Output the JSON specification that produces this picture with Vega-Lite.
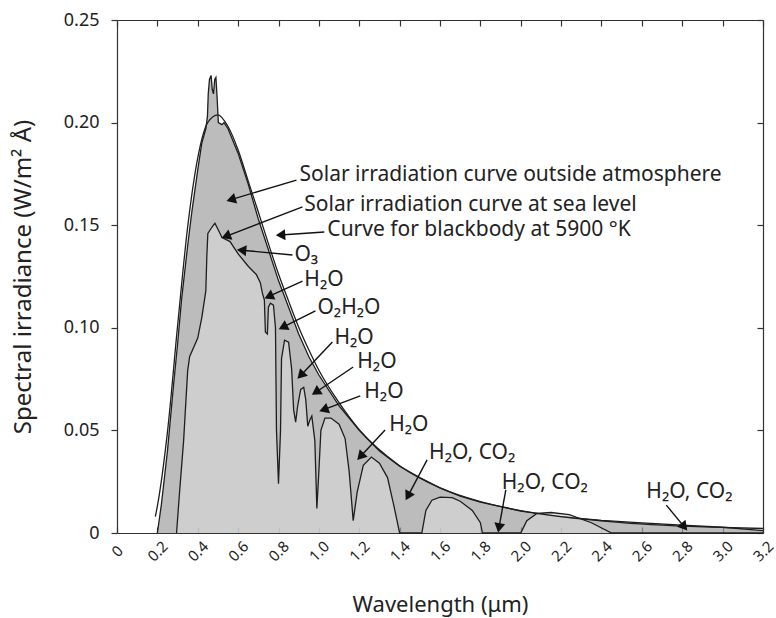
{
  "$schema": "https://vega.github.io/schema/vega-lite/v6.json",
  "width": 646,
  "height": 513,
  "autosize": {"type": "none"},
  "padding": {"left": 117, "top": 20, "right": 13, "bottom": 85},
  "background": "white",
  "config": {
    "font": "Noto Sans",
    "view": {"stroke": null},
    "axis": {"domainColor": "#333", "domainWidth": 1.2, "tickColor": "#333", "tickWidth": 1.2, "labelColor": "#222", "titleColor": "#222", "labelFont": "Noto Sans", "titleFont": "Noto Sans", "labelFontSize": 17, "titleFontSize": 22, "titleFontWeight": "normal", "grid": false}
  },
  "datasets": {
    "outer": [
      {"w": 0.20, "e": 0}, {"w": 0.22, "e": 0.014}, {"w": 0.25, "e": 0.040}, {"w": 0.28, "e": 0.072}, {"w": 0.30, "e": 0.092},
      {"w": 0.32, "e": 0.114}, {"w": 0.35, "e": 0.140}, {"w": 0.37, "e": 0.156}, {"w": 0.40, "e": 0.177}, {"w": 0.42, "e": 0.190},
      {"w": 0.44, "e": 0.197}, {"w": 0.448, "e": 0.203}, {"w": 0.452, "e": 0.214}, {"w": 0.458, "e": 0.221}, {"w": 0.466, "e": 0.223},
      {"w": 0.472, "e": 0.216}, {"w": 0.478, "e": 0.214}, {"w": 0.484, "e": 0.221}, {"w": 0.49, "e": 0.222}, {"w": 0.496, "e": 0.212},
      {"w": 0.502, "e": 0.200}, {"w": 0.52, "e": 0.199}, {"w": 0.53, "e": 0.200}, {"w": 0.55, "e": 0.197}, {"w": 0.60, "e": 0.185},
      {"w": 0.65, "e": 0.170}, {"w": 0.70, "e": 0.153}, {"w": 0.75, "e": 0.138}, {"w": 0.80, "e": 0.123}, {"w": 0.85, "e": 0.110},
      {"w": 0.90, "e": 0.097}, {"w": 0.95, "e": 0.086}, {"w": 1.00, "e": 0.077}, {"w": 1.10, "e": 0.062}, {"w": 1.20, "e": 0.050},
      {"w": 1.30, "e": 0.040}, {"w": 1.40, "e": 0.0325}, {"w": 1.50, "e": 0.027}, {"w": 1.60, "e": 0.022}, {"w": 1.70, "e": 0.018},
      {"w": 1.80, "e": 0.015}, {"w": 2.00, "e": 0.0107}, {"w": 2.20, "e": 0.008}, {"w": 2.40, "e": 0.0062}, {"w": 2.60, "e": 0.0049},
      {"w": 2.80, "e": 0.0038}, {"w": 3.00, "e": 0.0028}, {"w": 3.20, "e": 0.0012}
    ],
    "sea": [
      {"w": 0.295, "e": 0}, {"w": 0.31, "e": 0.02}, {"w": 0.33, "e": 0.045}, {"w": 0.35, "e": 0.079}, {"w": 0.36, "e": 0.086},
      {"w": 0.40, "e": 0.095}, {"w": 0.42, "e": 0.105}, {"w": 0.44, "e": 0.118}, {"w": 0.445, "e": 0.135}, {"w": 0.45, "e": 0.146},
      {"w": 0.47, "e": 0.149}, {"w": 0.485, "e": 0.151}, {"w": 0.50, "e": 0.148}, {"w": 0.52, "e": 0.144}, {"w": 0.56, "e": 0.142},
      {"w": 0.60, "e": 0.136}, {"w": 0.65, "e": 0.130}, {"w": 0.69, "e": 0.126}, {"w": 0.71, "e": 0.122}, {"w": 0.72, "e": 0.117},
      {"w": 0.73, "e": 0.1135}, {"w": 0.735, "e": 0.098}, {"w": 0.745, "e": 0.097}, {"w": 0.75, "e": 0.110}, {"w": 0.76, "e": 0.112},
      {"w": 0.775, "e": 0.111}, {"w": 0.785, "e": 0.100}, {"w": 0.79, "e": 0.05}, {"w": 0.80, "e": 0.024}, {"w": 0.81, "e": 0.05},
      {"w": 0.815, "e": 0.085}, {"w": 0.83, "e": 0.094}, {"w": 0.85, "e": 0.093}, {"w": 0.865, "e": 0.08}, {"w": 0.875, "e": 0.060},
      {"w": 0.885, "e": 0.054}, {"w": 0.895, "e": 0.062}, {"w": 0.91, "e": 0.070}, {"w": 0.925, "e": 0.071}, {"w": 0.935, "e": 0.065},
      {"w": 0.945, "e": 0.052}, {"w": 0.955, "e": 0.055}, {"w": 0.965, "e": 0.057}, {"w": 0.98, "e": 0.045}, {"w": 0.99, "e": 0.012},
      {"w": 1.00, "e": 0.03}, {"w": 1.01, "e": 0.05}, {"w": 1.03, "e": 0.056}, {"w": 1.06, "e": 0.056}, {"w": 1.10, "e": 0.053},
      {"w": 1.13, "e": 0.046}, {"w": 1.15, "e": 0.030}, {"w": 1.17, "e": 0.006}, {"w": 1.19, "e": 0.020}, {"w": 1.22, "e": 0.033},
      {"w": 1.26, "e": 0.037}, {"w": 1.30, "e": 0.034}, {"w": 1.34, "e": 0.027}, {"w": 1.37, "e": 0.014}, {"w": 1.40, "e": 0},
      {"w": 1.51, "e": 0}, {"w": 1.53, "e": 0.011}, {"w": 1.56, "e": 0.016}, {"w": 1.60, "e": 0.0175}, {"w": 1.66, "e": 0.0172},
      {"w": 1.70, "e": 0.0155}, {"w": 1.76, "e": 0.011}, {"w": 1.80, "e": 0.005}, {"w": 1.81, "e": 0}, {"w": 2.00, "e": 0},
      {"w": 2.03, "e": 0.006}, {"w": 2.08, "e": 0.0095}, {"w": 2.15, "e": 0.010}, {"w": 2.24, "e": 0.009}, {"w": 2.35, "e": 0.005},
      {"w": 2.45, "e": 0}, {"w": 3.20, "e": 0}
    ],
    "bb": [
      {"w": 0.19, "e": 0.008}, {"w": 0.20, "e": 0.0131}, {"w": 0.25, "e": 0.0493}, {"w": 0.30, "e": 0.1008}, {"w": 0.35, "e": 0.1491},
      {"w": 0.40, "e": 0.1828}, {"w": 0.45, "e": 0.2001}, {"w": 0.50, "e": 0.2038}, {"w": 0.55, "e": 0.1981}, {"w": 0.60, "e": 0.1866},
      {"w": 0.65, "e": 0.1715}, {"w": 0.70, "e": 0.1564}, {"w": 0.75, "e": 0.1410}, {"w": 0.80, "e": 0.1262}, {"w": 0.85, "e": 0.1130},
      {"w": 0.90, "e": 0.1003}, {"w": 0.95, "e": 0.0893}, {"w": 1.00, "e": 0.0793}, {"w": 1.10, "e": 0.0635}, {"w": 1.20, "e": 0.0503},
      {"w": 1.40, "e": 0.0328}, {"w": 1.60, "e": 0.0220}, {"w": 1.80, "e": 0.0153}, {"w": 2.00, "e": 0.0109}, {"w": 2.50, "e": 0.0051},
      {"w": 3.00, "e": 0.0027}, {"w": 3.20, "e": 0.0022}
    ],
    "labels": [
      {"t": "Solar irradiation curve outside atmosphere", "x": 0.904, "y": 0.1745},
      {"t": "Solar irradiation curve at sea level", "x": 0.928, "y": 0.160},
      {"t": "Curve for blackbody at 5900 °K", "x": 1.042, "y": 0.1477},
      {"t": "O₃", "x": 0.879, "y": 0.1355},
      {"t": "H₂O", "x": 0.928, "y": 0.1233},
      {"t": "O₂H₂O", "x": 0.993, "y": 0.1096},
      {"t": "H₂O", "x": 1.077, "y": 0.095},
      {"t": "H₂O", "x": 1.190, "y": 0.0833},
      {"t": "H₂O", "x": 1.225, "y": 0.0687},
      {"t": "H₂O", "x": 1.348, "y": 0.0526},
      {"t": "H₂O, CO₂", "x": 1.546, "y": 0.039},
      {"t": "H₂O, CO₂", "x": 1.906, "y": 0.0244},
      {"t": "H₂O, CO₂", "x": 2.622, "y": 0.020}
    ],
    "arrows": [
      {"x0": 0.889, "y0": 0.172, "x1": 0.565, "y1": 0.1625, "a": -106.6},
      {"x0": 0.919, "y0": 0.1589, "x1": 0.540, "y1": 0.1446, "a": -111},
      {"x0": 1.027, "y0": 0.1467, "x1": 0.81, "y1": 0.1452, "a": -93.7},
      {"x0": 0.869, "y0": 0.1355, "x1": 0.617, "y1": 0.1378, "a": -84.6},
      {"x0": 0.919, "y0": 0.1228, "x1": 0.752, "y1": 0.1153, "a": -114.6},
      {"x0": 0.983, "y0": 0.1082, "x1": 0.822, "y1": 0.1003, "a": -116.6},
      {"x0": 1.067, "y0": 0.0931, "x1": 0.91, "y1": 0.0768, "a": -136.7},
      {"x0": 1.170, "y0": 0.0809, "x1": 0.985, "y1": 0.0686, "a": -123.7},
      {"x0": 1.205, "y0": 0.0668, "x1": 1.024, "y1": 0.0601, "a": -110.2},
      {"x0": 1.328, "y0": 0.0502, "x1": 1.206, "y1": 0.0373, "a": -137.1},
      {"x0": 1.536, "y0": 0.0356, "x1": 1.441, "y1": 0.018, "a": -152.2},
      {"x0": 1.926, "y0": 0.021, "x1": 1.892, "y1": 0.0025, "a": -170.1},
      {"x0": 2.721, "y0": 0.0136, "x1": 2.81, "y1": 0.003, "a": 140.4}
    ]
  },
  "resolve": {"axis": {"x": "independent", "y": "independent"}},
  "layer": [
    {
      "data": {"name": "outer"},
      "mark": {"type": "area", "color": "#a0a0a0", "line": {"color": "#1e1e1e", "strokeWidth": 1.3}},
      "encoding": {
        "x": {"field": "w", "type": "quantitative", "scale": {"domain": [0, 3.2], "nice": false, "zero": false},
          "axis": {"orient": "bottom", "values": [0, 0.2, 0.4, 0.6, 0.8, 1.0, 1.2, 1.4, 1.6, 1.8, 2.0, 2.2, 2.4, 2.6, 2.8, 3.0, 3.2],
            "labelExpr": "datum.value == 0 ? '0' : format(datum.value, '.1f')", "labelAngle": -45, "labelAlign": "center", "labelBaseline": "middle",
            "labelFontSize": 15, "tickSize": -6, "labelPadding": 24, "title": "Wavelength (μm)", "titlePadding": 30}},
        "y": {"field": "e", "type": "quantitative", "scale": {"domain": [0, 0.25], "nice": false},
          "axis": {"orient": "left", "values": [0, 0.05, 0.1, 0.15, 0.2, 0.25],
            "labelExpr": "datum.value == 0 ? '0' : format(datum.value, '.2f')", "labelFontSize": 18, "tickSize": 6, "labelPadding": 12,
            "title": "Spectral irradiance (W/m² Å)", "titleFontSize": 24, "titlePadding": 28}}
      }
    },
    {
      "data": {"name": "sea"},
      "mark": {"type": "area", "color": "#d5d5d5", "line": {"color": "#1e1e1e", "strokeWidth": 1.3}},
      "encoding": {
        "x": {"field": "w", "type": "quantitative", "axis": null},
        "y": {"field": "e", "type": "quantitative", "axis": null}
      }
    },
    {
      "data": {"name": "bb"},
      "mark": {"type": "line", "color": "#1e1e1e", "strokeWidth": 1.3, "interpolate": "monotone"},
      "encoding": {
        "x": {"field": "w", "type": "quantitative", "axis": null},
        "y": {"field": "e", "type": "quantitative", "axis": null}
      }
    },
    {
      "data": {"name": "bb"},
      "mark": {"type": "line", "opacity": 0},
      "encoding": {
        "x": {"field": "w", "type": "quantitative",
          "axis": {"orient": "top", "values": [0, 0.2, 0.4, 0.6, 0.8, 1.0, 1.2, 1.4, 1.6, 1.8, 2.0, 2.2, 2.4, 2.6, 2.8, 3.0, 3.2], "labels": false, "title": null, "tickSize": -6}},
        "y": {"field": "e", "type": "quantitative",
          "axis": {"orient": "right", "values": [0, 0.05, 0.1, 0.15, 0.2, 0.25], "labels": false, "title": null, "tickSize": -6}}
      }
    },
    {
      "data": {"name": "arrows"},
      "mark": {"type": "rule", "color": "#111", "strokeWidth": 1.4},
      "encoding": {
        "x": {"field": "x0", "type": "quantitative", "axis": null},
        "y": {"field": "y0", "type": "quantitative", "axis": null},
        "x2": {"field": "x1"},
        "y2": {"field": "y1"}
      }
    },
    {
      "data": {"name": "arrows"},
      "mark": {"type": "point", "shape": "triangle-up", "filled": true, "color": "#111", "size": 120, "opacity": 1},
      "encoding": {
        "x": {"field": "x1", "type": "quantitative", "axis": null},
        "y": {"field": "y1", "type": "quantitative", "axis": null},
        "angle": {"field": "a", "type": "quantitative", "scale": null}
      }
    },
    {
      "data": {"name": "labels"},
      "mark": {"type": "text", "align": "left", "baseline": "middle", "fontSize": 21, "color": "#222", "font": "Noto Sans"},
      "encoding": {
        "x": {"field": "x", "type": "quantitative", "axis": null},
        "y": {"field": "y", "type": "quantitative", "axis": null},
        "text": {"field": "t"}
      }
    }
  ]
}
